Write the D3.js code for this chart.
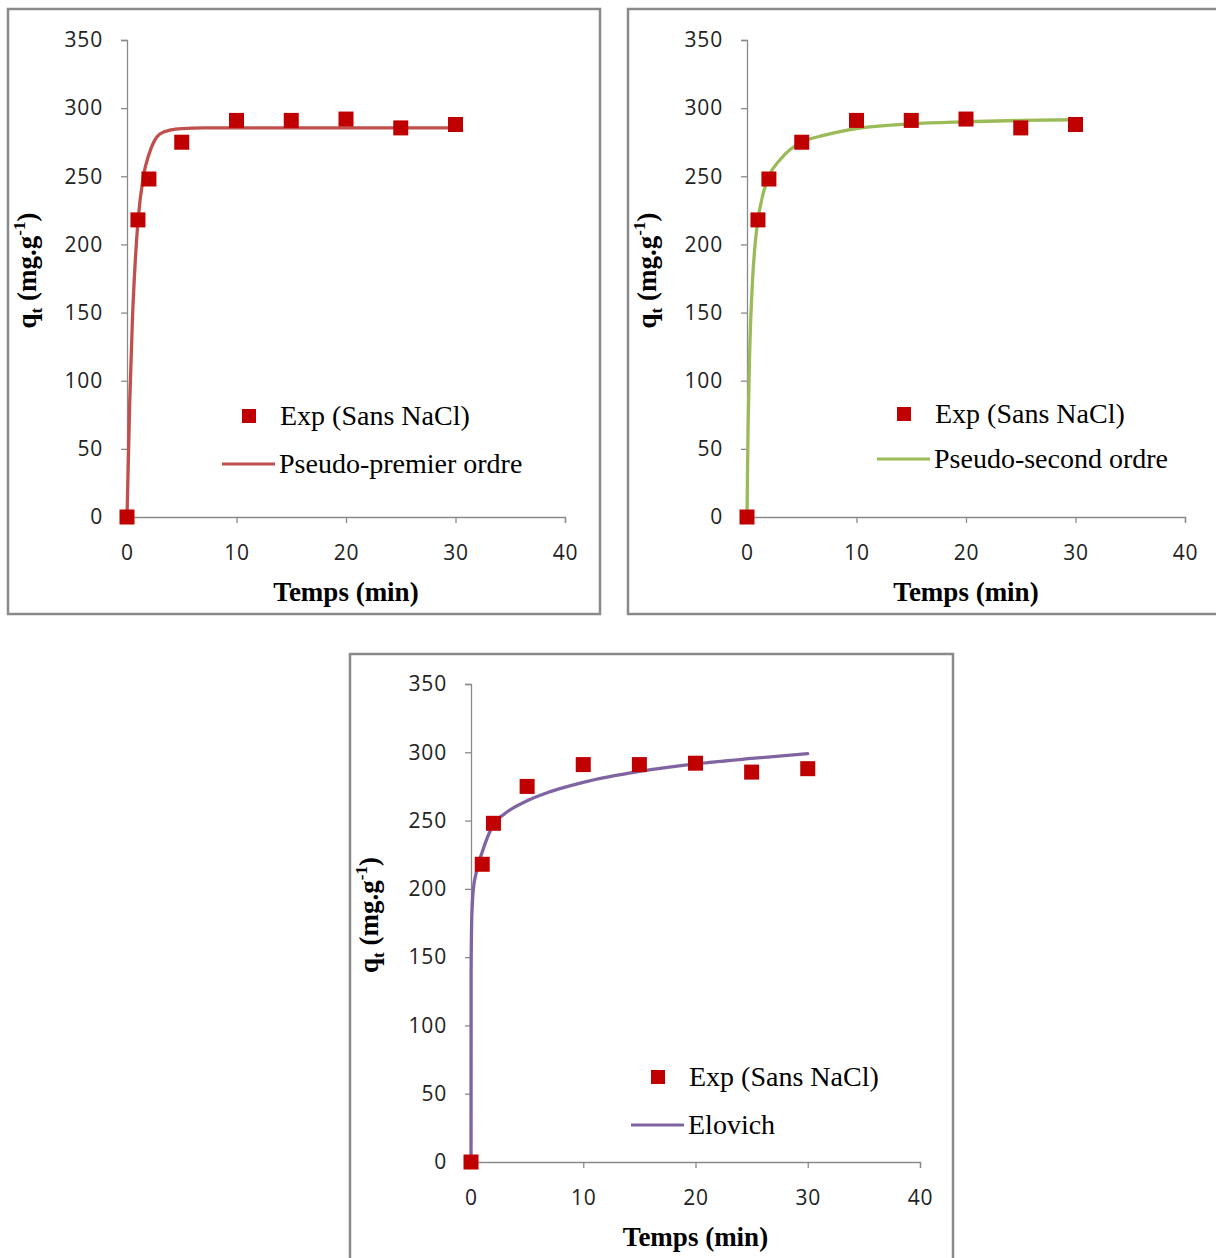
<!DOCTYPE html>
<html>
<head>
<meta charset="utf-8">
<script src="https://cdn.jsdelivr.net/npm/d3@7"></script>
<style>
  html, body { margin: 0; padding: 0; background: #fff; }
  svg { display: block; }
  .tick-label { font-family: "Open Sans", sans-serif; font-size: 21px; letter-spacing: 0.8px; fill: #222; }
  .axis-title { font-family: "Liberation Serif", "Times New Roman", serif; font-weight: bold; font-size: 27px; fill: #000; }
  .legend-text { font-family: "Liberation Serif", "Times New Roman", serif; font-size: 28px; fill: #000; }
</style>
</head>
<body>
<svg id="chart" width="1216" height="1258"></svg>
<script>
// Experimental kinetics: adsorbed quantity vs contact time (without NaCl)
const timeMin = [0, 1, 2, 5, 10, 15, 20, 25, 30];
const qtExp   = [0, 218, 248, 275, 291, 291, 292, 285.5, 288];

// Model curves (pseudo-first order, pseudo-second order, Elovich)
const pfoTime = [0, 0.25, 0.5, 0.75, 1, 1.5, 2, 2.5, 3, 4, 5, 7, 10, 15, 20, 25, 30];
const pfoQt   = [0, 85, 146, 187, 217, 250, 266, 276, 281, 284, 285, 285.5, 285.5, 285.5, 285.5, 285.5, 285.5];

const psoTime = [0, 0.05, 0.1, 0.25, 0.5, 0.75, 1, 1.5, 2, 3, 4, 5, 7, 10, 15, 20, 25, 30];
const psoQt   = [0, 36, 66, 123, 173, 201, 218, 238, 250, 262, 270, 275, 280, 285, 288.5, 290, 291, 291.5];

const elovichTime = [0, 0.01, 0.05, 0.1, 0.2, 0.5, 1, 2, 3, 5, 7, 10, 15, 20, 25, 30];
const elovichQt   = [0, 140, 172, 186, 199, 213, 227, 247, 255, 264.5, 271, 278, 286, 291.5, 295.5, 299];

// Axis ticks
const xTicks = [0, 10, 20, 30, 40];
const yTicks = [0, 50, 100, 150, 200, 250, 300, 350];

const svg = d3.select("#chart");

const panels = [
  { frame: [8, 9, 592, 605], ox: 127, oy: 517, w: 438, h: 477,
    time: pfoTime, qt: pfoQt, color: "#C0504D", label: "Pseudo-premier ordre",
    legend: { x: 249, y1: 416, y2: 464 }, yTitleX: 36 },
  { frame: [628, 9, 600, 605], ox: 747, oy: 517, w: 438, h: 477,
    time: psoTime, qt: psoQt, color: "#9BBB59", label: "Pseudo-second ordre",
    legend: { x: 904, y1: 414, y2: 459 }, yTitleX: 656 },
  { frame: [350, 654, 603, 620], ox: 471, oy: 1162, w: 449, h: 478,
    time: elovichTime, qt: elovichQt, color: "#8064A2", label: "Elovich",
    legend: { x: 658, y1: 1077, y2: 1125 }, yTitleX: 378 }
];

panels.forEach(p => {
  // Chart frame
  svg.append("rect")
    .attr("x", p.frame[0]).attr("y", p.frame[1])
    .attr("width", p.frame[2]).attr("height", p.frame[3])
    .attr("fill", "#fff").attr("stroke", "#8a8a8a").attr("stroke-width", 2.5);

  const x = d3.scaleLinear().domain([0, 40]).range([p.ox, p.ox + p.w]);
  const y = d3.scaleLinear().domain([0, 350]).range([p.oy, p.oy - p.h]);

  // X axis
  const gx = svg.append("g").attr("transform", `translate(0,${p.oy})`)
    .call(d3.axisBottom(x).tickValues(xTicks).tickSize(6).tickPadding(17).tickFormat(d3.format("d")));
  // Y axis
  const gy = svg.append("g").attr("transform", `translate(${p.ox},0)`)
    .call(d3.axisLeft(y).tickValues(yTicks).tickSize(6).tickPadding(18).tickFormat(d3.format("d")));

  [gx, gy].forEach(g => {
    g.select(".domain").attr("stroke", "#8a8a8a").attr("stroke-width", 1.3);
    g.selectAll(".tick line").attr("stroke", "#8a8a8a").attr("stroke-width", 1.3);
    g.selectAll(".tick text").attr("class", "tick-label").attr("font-size", null).attr("font-family", null);
  });
  gx.selectAll(".tick text").attr("dy", "0.95em");

  // Axis titles
  svg.append("text").attr("class", "axis-title")
    .attr("x", p.ox + p.w / 2).attr("y", p.oy + 84)
    .attr("text-anchor", "middle").text("Temps (min)");

  const yt = svg.append("text").attr("class", "axis-title")
    .attr("transform", `translate(${p.yTitleX},${p.oy - p.h / 2 - 8}) rotate(-90)`)
    .attr("text-anchor", "middle");
  yt.append("tspan").text("q");
  yt.append("tspan").attr("font-size", 17).attr("dy", 6).text("t");
  yt.append("tspan").attr("dy", -6).text(" (mg.g");
  yt.append("tspan").attr("font-size", 17).attr("dy", -11).text("-1");
  yt.append("tspan").attr("dy", 11).text(")");

  // Model curve
  const pts = p.time.map((t, i) => [t, p.qt[i]]);
  svg.append("path").datum(pts)
    .attr("fill", "none").attr("stroke", p.color).attr("stroke-width", 3.3)
    .attr("stroke-linejoin", "round").attr("stroke-linecap", "round")
    .attr("d", d3.line().x(d => x(d[0])).y(d => y(d[1])).curve(d3.curveMonotoneX));

  // Experimental points
  const s = 15;
  svg.append("g").selectAll("rect")
    .data(timeMin.map((t, i) => [t, qtExp[i]]))
    .join("rect")
    .attr("x", d => x(d[0]) - s / 2).attr("y", d => y(d[1]) - s / 2)
    .attr("width", s).attr("height", s).attr("fill", "#C00000");

  // Legend
  const L = p.legend;
  svg.append("rect").attr("x", L.x - 7).attr("y", L.y1 - 7).attr("width", 14).attr("height", 14).attr("fill", "#C00000");
  svg.append("text").attr("class", "legend-text").attr("x", L.x + 31).attr("y", L.y1 + 9).text("Exp (Sans NaCl)");
  svg.append("line").attr("x1", L.x - 27).attr("x2", L.x + 26).attr("y1", L.y2).attr("y2", L.y2)
    .attr("stroke", p.color).attr("stroke-width", 3);
  svg.append("text").attr("class", "legend-text").attr("x", L.x + 30).attr("y", L.y2 + 9).text(p.label);
});
</script>
</body>
</html>
